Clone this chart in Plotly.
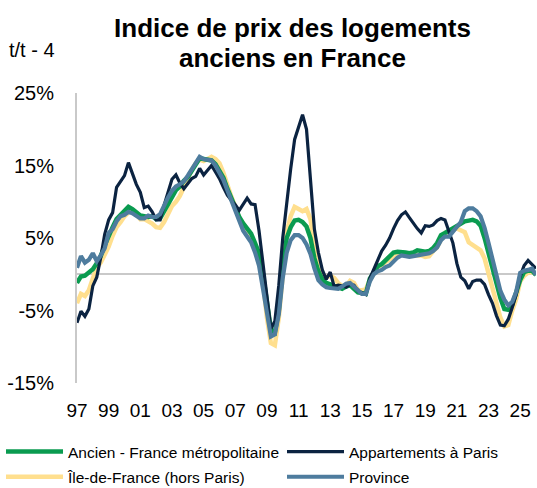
import plotly.graph_objects as go

# Quarterly periods (t/t-4 growth, %)
start_year = 1997
n_points = 117
periods = [f"{start_year + i // 4}T{i % 4 + 1}" for i in range(n_points)]

ancien_france = [
    -1.2, -0.3, -0.2, 0.2, 0.7, 1.5, 2.5, 4.0, 5.4, 6.5,
    7.6, 8.2, 8.7, 9.3, 9.0, 8.6, 8.1, 8.0, 7.9, 8.0,
    7.6, 7.7, 8.7, 9.9, 10.8, 11.6, 12.1, 12.9, 13.4, 14.2,
    15.2, 16.0, 15.9, 15.8, 15.7, 15.2, 14.3, 13.3, 11.8, 10.4,
    9.2, 7.9, 7.0, 6.3, 5.6, 4.3, 2.9, 0.0, -4.0, -7.6,
    -8.0, -5.0, 0.8, 5.0, 6.5, 7.4, 7.5, 7.2, 6.6, 5.0,
    2.2, 0.4, -0.7, -1.2, -1.4, -1.6, -1.8, -2.0, -1.7, -1.5,
    -2.0, -2.5, -2.6, -2.7, -0.6, 0.4, 1.1, 1.4, 1.9, 2.5,
    3.0, 3.1, 3.1, 3.0, 2.9, 3.0, 3.3, 3.2, 3.1, 3.2,
    3.6, 4.3, 5.4, 5.7, 6.0, 6.3, 6.6, 7.0, 7.3, 7.4,
    7.5, 7.3, 6.7, 5.0, 3.0, 0.5, -1.5, -3.3, -4.8, -4.9,
    -4.2, -2.5, -0.8, 0.3, 0.5, 0.5, -0.1,
]

appart_paris = [
    -6.7, -5.1, -5.8, -4.8, -1.6, -0.4, 2.3, 5.5, 7.5, 8.5,
    12.0, 12.9, 13.6, 15.4, 13.8, 12.4, 11.3, 9.2, 9.4, 8.6,
    7.5, 7.5, 9.5, 11.5, 13.1, 13.7, 12.6, 11.8, 12.5, 13.2,
    13.5, 14.6, 13.7, 14.4, 15.0, 14.1, 13.2, 12.0, 10.9, 10.2,
    9.6, 8.8, 9.6, 10.5, 9.7, 9.6, 6.0, 1.6, -3.5, -7.5,
    -6.5, -1.5, 5.0, 10.0, 14.5, 18.6, 20.5, 22.0, 20.0, 12.4,
    6.2, 3.0, 0.6, -0.7, 0.3, -1.7, -1.5, -1.6, -1.8, -1.4,
    -1.5, -2.3, -2.6, -2.8, -0.6, 0.6, 2.0, 3.2, 4.0, 5.0,
    6.3, 7.4, 8.2, 8.6, 7.8, 7.0, 6.3, 5.7, 6.7, 6.6,
    6.8, 7.4, 7.7, 7.5, 6.0, 4.3, 1.5, -0.4, -0.9, -2.0,
    -1.0, -0.8, -0.8, -1.4, -2.8, -4.0, -5.7, -7.0, -7.1, -6.2,
    -4.6, -2.8, -0.3, 1.2, 1.9, 1.3, 0.8,
]

idf_hors_paris = [
    -4.0, -2.7, -3.0, -2.2, -0.6, 0.9, 1.6, 2.6, 3.8, 5.3,
    6.5, 7.2, 8.0, 8.5, 8.8, 8.3, 7.6, 7.6, 7.3, 7.0,
    6.5, 6.4, 7.2, 8.4, 9.4, 10.0, 10.8, 12.0, 13.4, 14.4,
    15.3, 15.8, 15.6, 15.9, 16.2, 15.9, 15.3, 14.0, 12.2, 10.7,
    9.3, 7.8, 7.0, 6.2, 5.4, 4.0, 2.5, -1.0, -6.0, -9.5,
    -9.8, -6.0, 0.5, 5.8, 8.0, 9.3, 9.0, 8.7, 9.0, 7.6,
    4.0, 0.8, -0.3, -0.4, -0.2, -0.5, -1.2, -1.6, -1.6, -0.9,
    -1.2, -2.2, -2.2, -2.1, -0.8, 0.2, 1.0, 1.3, 1.7, 2.0,
    2.4, 2.8, 2.9, 2.9, 2.9, 2.8, 2.6, 2.6, 2.4, 2.5,
    3.2, 3.7, 4.8, 5.7, 5.7, 6.2, 6.3, 6.1, 5.8, 4.4,
    4.0, 3.7, 3.3, 2.2, 0.2, -1.8, -3.6, -6.0, -7.2, -7.0,
    -5.0, -3.4, -1.0, -0.2, 0.2, 0.3, 0.1,
]

province = [
    0.9, 2.5, 1.6, 2.0, 2.9, 1.8, 2.6, 3.6, 5.7, 6.2,
    7.3, 8.0, 8.2, 8.6, 8.4, 8.0, 7.7, 7.7, 8.1, 7.9,
    7.9, 8.3, 9.5, 10.6, 11.5, 12.1, 12.4, 12.8, 13.6, 14.5,
    15.3, 16.2, 15.9, 15.8, 15.7, 15.0, 14.0, 13.0, 11.6, 10.2,
    8.8, 7.5, 6.0, 5.2, 4.4, 3.0, 1.2, -2.0, -5.6, -8.6,
    -8.3, -5.5, -0.5, 3.0, 4.7, 5.4, 5.4, 5.0, 4.1, 2.8,
    0.8, -0.8, -1.4, -1.8, -1.9, -2.0, -2.0, -1.7, -1.3, -1.2,
    -1.7, -2.3, -2.7, -2.7, -1.0, 0.0, 0.4, 0.6, 1.0, 1.2,
    1.8, 2.3, 2.6, 2.5, 2.4, 2.5, 2.6, 2.8, 2.9, 2.9,
    3.2, 3.7, 4.7, 5.2, 5.2, 5.8, 6.6, 7.2, 8.7, 9.1,
    9.1, 8.7, 8.0, 6.4, 4.3, 2.0, -0.2, -2.3, -3.5, -4.3,
    -3.8, -2.4, 0.2, 0.5, 0.6, 0.8, -0.1,
]

tick_years = list(range(1997, 2026, 2))
tick_labels = [f"{y % 100:02d}" for y in tick_years]
tick_positions = [f"{y}T1" for y in tick_years]

y_tickvals = [-15, -5, 5, 15, 25]
y_ticktext = [f"{v}%" for v in y_tickvals]

title_line1 = "Indice de prix des logements"
title_line2 = "anciens en France"
unit_label = "t/t - 4"

FONT = "Liberation Sans, Arial, sans-serif"

# (name, values, colour, width, legend column)
series = [
    ("Ancien - France métropolitaine", ancien_france, "#0A9B50", 4.5, "legend"),
    ("Appartements à Paris", appart_paris, "#0B2341", 3.2, "legend2"),
    ("Île-de-France (hors Paris)", idf_hors_paris, "#FFDF8E", 4.5, "legend"),
    ("Province", province, "#4E7C9E", 4.2, "legend2"),
]
draw_order = [2, 0, 1, 3]

fig = go.Figure()
for i in draw_order:
    name, vals, color, width, leg = series[i]
    fig.add_trace(go.Scatter(
        x=periods, y=vals, mode="lines", name=name,
        line=dict(color=color, width=width),
        legend=leg, legendrank=i + 1, legendgroup=f"g{i}",
    ))

W, H = 537, 488
ml, mr, mt, mb = 77, 1, 93, 105
plot_w = W - ml - mr
plot_h = H - mt - mb

def px_to_paper_x(px):
    return (px - ml) / plot_w

def px_to_paper_y(py):
    return (H - mb - py) / plot_h

legend_common = dict(
    orientation="v",
    xref="container", yref="container",
    xanchor="left", yanchor="top",
    y=1 - 435 / H,
    font=dict(family=FONT, size=15.5, color="#000000"),
    itemwidth=57,
    traceorder="grouped",
    tracegroupgap=2,
    bgcolor="rgba(0,0,0,0)",
)

fig.update_layout(
    width=W, height=H,
    margin=dict(l=ml, r=mr, t=mt, b=mb, autoexpand=False),
    paper_bgcolor="white", plot_bgcolor="white",
    font=dict(family=FONT, color="#000000"),
    title=dict(
        text=title_line1,
        font=dict(family=FONT, size=26, color="#000000", weight="bold"),
        x=292.5 / W, xanchor="center", xref="container",
        y=1 - 27.5 / H, yanchor="middle", yref="container",
    ),
    showlegend=True,
    legend=dict(legend_common, x=1 / W),
    legend2=dict(legend_common, x=282 / W),
    xaxis=dict(
        type="category",
        range=[0, n_points - 1],
        tickmode="array", tickvals=tick_positions, ticktext=tick_labels,
        showgrid=False, showline=False, zeroline=False,
        ticks="", ticklabelstandoff=14, automargin=False,
        tickfont=dict(family=FONT, size=19, color="#000000"),
    ),
    yaxis=dict(
        range=[-15, 25],
        tickmode="array", tickvals=y_tickvals, ticktext=y_ticktext,
        showgrid=False, showline=True, linecolor="#C9C9C9", linewidth=2,
        zeroline=True, zerolinecolor="#C9C9C9", zerolinewidth=2,
        ticks="", ticklabelstandoff=17, automargin=False,
        tickfont=dict(family=FONT, size=20, color="#000000"),
    ),
    annotations=[
        dict(
            text=title_line2, xref="paper", yref="paper",
            x=px_to_paper_x(292.5), xanchor="center",
            y=px_to_paper_y(57.6), yanchor="middle",
            showarrow=False,
            font=dict(family=FONT, size=26, color="#000000", weight="bold"),
        ),
        dict(
            text=unit_label, xref="paper", yref="paper",
            x=px_to_paper_x(7), xanchor="left",
            y=px_to_paper_y(50), yanchor="middle",
            showarrow=False,
            font=dict(family=FONT, size=20, color="#000000"),
        ),
    ],
)

fig.write_html(
    "out.html",
    config={"displayModeBar": False},
    post_script="document.body.style.margin='0';",
)
